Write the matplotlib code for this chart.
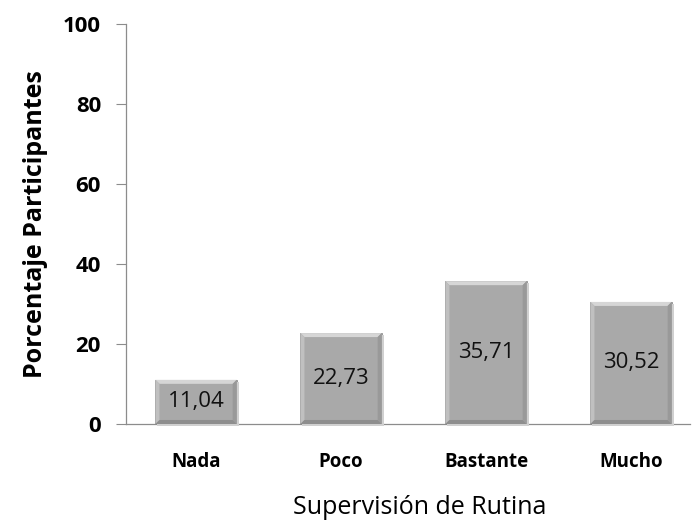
import matplotlib.pyplot as plt
from matplotlib.patches import Polygon

categories = ['Nada', 'Poco', 'Bastante', 'Mucho']
values = [11.04, 22.73, 35.71, 30.52]
value_labels = ['11,04', '22,73', '35,71', '30,52']
yticks = [0, 20, 40, 60, 80, 100]

plt.rcParams['font.family'] = ['Open Sans', 'DejaVu Sans']

fig = plt.figure(figsize=(6.94, 5.23), dpi=100)
ax = fig.add_axes([0.1816, 0.1893, 0.8127, 0.7648])

x = list(range(len(categories)))
bars = ax.bar(x, values, width=0.56, color='#a9a9a9', edgecolor='#8f8f8f',
              linewidth=0.6, zorder=3)

ax.set_xlim(-0.483, 3.407)
ax.set_ylim(0, 100)
ax.set_yticks(yticks)
ax.set_yticklabels([str(t) for t in yticks], fontsize=16, fontweight='bold')
ax.set_xticks(x)
ax.set_xticklabels(categories, fontsize=13.5, fontweight='bold')
ax.tick_params(axis='x', length=0, pad=20)
ax.tick_params(axis='y', length=7, color='#8c8c8c', width=0.8, pad=11)

for side in ['top', 'right']:
    ax.spines[side].set_visible(False)
for side in ['left', 'bottom']:
    ax.spines[side].set_color('#8c8c8c')
    ax.spines[side].set_linewidth(0.9)

ax.set_ylabel('Porcentaje Participantes', fontsize=18, fontweight='bold')
ax.yaxis.set_label_coords(-0.16, 0.5)
ax.yaxis.label.set_va('center')
ax.set_xlabel('Supervisión de Rutina', fontsize=18)
ax.xaxis.set_label_coords(0.521, -0.21)
ax.xaxis.label.set_va('center')

ax.bar_label(bars, labels=value_labels, label_type='center', fontsize=16,
             color='#111111', zorder=5)

# bevel + shadow drawn in pixel space around each bar
fig.canvas.draw()
b = 4
for r in bars:
    bb = r.get_window_extent()
    x0, y0, x1, y1 = bb.x0, bb.y0, bb.x1, bb.y1
    shadow = Polygon([(x0 + 2, y0 - 2), (x1 + 2, y0 - 2), (x1 + 2, y1 - 2), (x1, y1 - 2), (x1, y0), (x0 + 2, y0)],
                     closed=True, transform=None, facecolor='#d0d0d0', edgecolor='none', zorder=2)
    top = Polygon([(x0, y1), (x1, y1), (x1 - b, y1 - b), (x0 + b, y1 - b)], closed=True,
                  transform=None, facecolor='#d6d6d6', edgecolor='none', zorder=4)
    left = Polygon([(x0, y0), (x0, y1), (x0 + b, y1 - b), (x0 + b, y0 + b)], closed=True,
                   transform=None, facecolor='#c0c0c0', edgecolor='none', zorder=4)
    right = Polygon([(x1, y0), (x1, y1), (x1 - b, y1 - b), (x1 - b, y0 + b)], closed=True,
                    transform=None, facecolor='#999999', edgecolor='none', zorder=4)
    bottom = Polygon([(x0, y0), (x1, y0), (x1 - b, y0 + b), (x0 + b, y0 + b)], closed=True,
                     transform=None, facecolor='#8e8e8e', edgecolor='none', zorder=4)
    for p in (shadow, top, left, right, bottom):
        fig.add_artist(p)

fig.savefig('out.png', dpi=100, facecolor='white')
